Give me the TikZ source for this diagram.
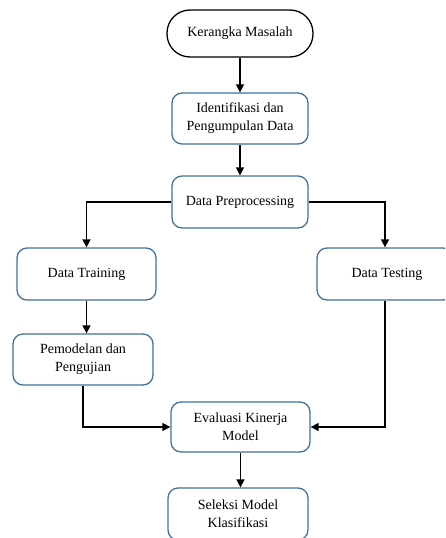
\documentclass[tikz,border=0pt]{standalone}
\usepackage{fontspec}
\setmainfont{Liberation Serif}
\usetikzlibrary{arrows.meta}
\definecolor{boxblue}{HTML}{41719C}
\begin{document}
\begin{tikzpicture}[x=1pt,y=-1pt,
  every node/.style={font=\fontsize{14}{18}\selectfont, align=center, inner sep=0pt},
  stepbox/.style={draw=boxblue, line width=1.3pt, rounded corners=10pt, fill=white},
  startbox/.style={draw=black, line width=1.3pt, rounded corners=23pt, fill=white},
  conn/.style={draw=black, line width=1.5pt, -{Triangle[length=8pt,width=8pt]}}
]
\useasboundingbox (0,0) rectangle (445,538);
\clip (0,0) rectangle (445,538);
\node[startbox, minimum width=146pt, minimum height=47pt] (km) at (240,33.5) {Kerangka Masalah};
\node[stepbox, minimum width=136pt, minimum height=51pt] (id) at (240,118.5) {Identifikasi dan\\Pengumpulan Data};
\node[stepbox, minimum width=136pt, minimum height=52pt] (pp) at (240,202) {Data Preprocessing};
\node[stepbox, minimum width=139pt, minimum height=52pt] (tr) at (86.5,274) {Data Training};
\node[stepbox, minimum width=136pt, minimum height=52pt] (ts) at (385,274) {\hspace*{4pt}Data Testing};
\node[stepbox, minimum width=140pt, minimum height=51pt] (pm) at (83,359.5) {Pemodelan dan\\Pengujian};
\node[stepbox, minimum width=139pt, minimum height=50pt] (ev) at (240.5,427) {Evaluasi Kinerja\\Model};
\node[stepbox, minimum width=140pt, minimum height=52pt] (sk) at (238,514) {Seleksi Model\\Klasifikasi};
\draw[conn] (km) -- (id);
\draw[conn] (id) -- (pp);
\draw[conn] (pp.west) -| (tr.north);
\draw[conn] (pp.east) -| (ts.north);
\draw[conn] (tr) -- (tr |- pm.north);
\draw[conn] (pm.south) |- (ev.west);
\draw[conn] (ts.south) |- (ev.east);
\draw[conn] (ev) -- (ev |- sk.north);
\end{tikzpicture}
\end{document}
